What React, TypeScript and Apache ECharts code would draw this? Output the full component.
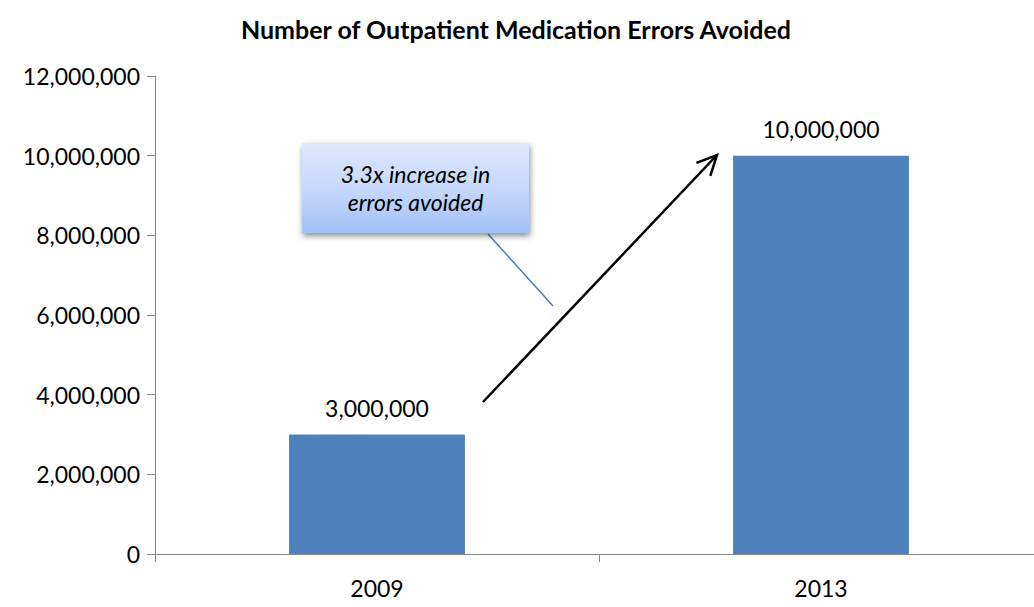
import React, { useEffect, useRef } from "react";
import * as echarts from "echarts";

const categories = ["2009", "2013"];
const errorsAvoided = [3000000, 10000000];
const yTicks = [0, 2000000, 4000000, 6000000, 8000000, 10000000, 12000000];
const titleText = "Number of Outpatient Medication Errors Avoided";
const calloutLines = ["3.3x increase in", "errors avoided"];

const FONT = "Lato, 'Open Sans', sans-serif";

function fmt(v: number) {
  return v.toLocaleString("en-US");
}

export default function App() {
  const ref = useRef<HTMLDivElement>(null);
  useEffect(() => {
    document.body.style.overflow = "hidden";
    if (!ref.current) return;
    const chart = echarts.init(ref.current, null, { renderer: "svg" });
    const axisColor = "#868686";
    // arrow geometry
    const ax1 = 483, ay1 = 402, ax2 = 717, ay2 = 155;
    const ang = Math.atan2(ay2 - ay1, ax2 - ax1);
    const hl = 22, hw = 0.45;
    const p1 = [ax2 - hl * Math.cos(ang - hw), ay2 - hl * Math.sin(ang - hw)];
    const p2 = [ax2 - hl * Math.cos(ang + hw), ay2 - hl * Math.sin(ang + hw)];
    chart.setOption({
      animation: false,
      backgroundColor: "#ffffff",
      title: {
        text: titleText,
        left: 511,
        textAlign: "center",
        top: 11,
        textStyle: { fontFamily: FONT, fontWeight: "bold", fontSize: 25, color: "#000" },
      },
      grid: { left: 155, right: 0, top: 76, bottom: 53 },
      xAxis: {
        type: "category",
        data: categories,
        axisLine: { lineStyle: { color: axisColor, width: 1 } },
        axisTick: { show: true, length: 8, lineStyle: { color: axisColor } },
        axisLabel: { fontFamily: FONT, fontSize: 23, color: "#000", margin: 22 },
      },
      yAxis: {
        type: "value",
        min: 0,
        max: 12000000,
        interval: 2000000,
        axisLine: { show: true, lineStyle: { color: axisColor, width: 1 } },
        axisTick: { show: true, length: 8, lineStyle: { color: axisColor } },
        splitLine: { show: false },
        axisLabel: {
          fontFamily: FONT,
          fontSize: 23,
          color: "#000",
          margin: 15,
          formatter: (v: number) => (yTicks.includes(v) ? fmt(v) : ""),
        },
      },
      series: [
        {
          type: "bar",
          data: errorsAvoided,
          barWidth: "39.6%",
          itemStyle: { color: "#4f81bd" },
          label: {
            show: true,
            position: "top",
            distance: 15,
            fontFamily: FONT,
            fontSize: 23,
            color: "#000",
            formatter: (p: any) => fmt(p.value),
          },
        },
      ],
      graphic: [
        {
          type: "line",
          shape: { x1: 488, y1: 234, x2: 553, y2: 306 },
          style: { stroke: "#4a7ebb", lineWidth: 1.5 },
          z: 10,
        },
        {
          type: "rect",
          shape: { x: 302, y: 143, width: 227, height: 90 },
          style: {
            fill: new echarts.graphic.LinearGradient(0, 0, 0, 1, [
              { offset: 0, color: "#dde8fc" },
              { offset: 0.5, color: "#c6d9fb" },
              { offset: 1, color: "#a2c1f8" },
            ]),
            shadowColor: "rgba(0,0,0,0.45)",
            shadowBlur: 6,
            shadowOffsetX: 1,
            shadowOffsetY: 3,
          },
          z: 11,
        },
        {
          type: "text",
          x: 415.5,
          y: 188,
          style: {
            text: calloutLines.join("\n"),
            align: "center",
            verticalAlign: "middle",
            fontFamily: FONT,
            fontStyle: "italic",
            fontSize: 23,
            lineHeight: 28,
            fill: "#000",
          },
          z: 12,
        },
        {
          type: "line",
          shape: { x1: ax1, y1: ay1, x2: ax2, y2: ay2 },
          style: { stroke: "#000", lineWidth: 2.5 },
          z: 10,
        },
        {
          type: "polyline",
          shape: { points: [p1, [ax2, ay2], p2] },
          style: { stroke: "#000", lineWidth: 2.5, fill: null },
          z: 10,
        },
      ],
    });
    return () => chart.dispose();
  }, []);
  return (
    <div style={{ position: "absolute", left: 0, top: 0, width: 1034, height: 607, overflow: "hidden" }}>
      <div ref={ref} style={{ width: 1043, height: 607 }} />
    </div>
  );
}
